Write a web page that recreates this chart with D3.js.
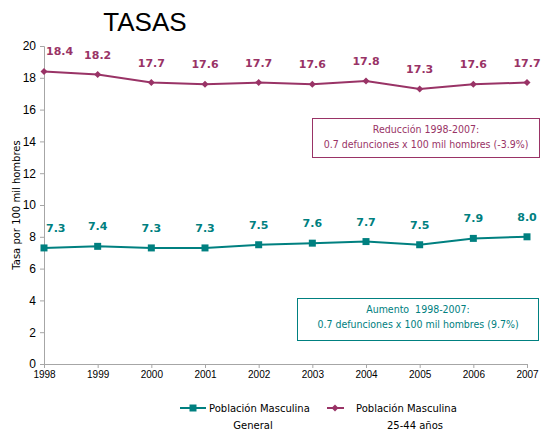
<!DOCTYPE html>
<html>
<head>
<meta charset="utf-8">
<script src="https://cdn.jsdelivr.net/npm/d3@7"></script>
<style>
body { margin: 0; background: #fff; }
</style>
</head>
<body>
<div id="app"></div>
<script>
const years = [1998, 1999, 2000, 2001, 2002, 2003, 2004, 2005, 2006, 2007];
const general = [7.3, 7.4, 7.3, 7.3, 7.5, 7.6, 7.7, 7.5, 7.9, 8.0];
const edad2544 = [18.4, 18.2, 17.7, 17.6, 17.7, 17.6, 17.8, 17.3, 17.6, 17.7];
const yTicks = [0, 2, 4, 6, 8, 10, 12, 14, 16, 18, 20];

const w = 541, h = 437;
const teal = "#008080", plum = "#993366";

const svg = d3.select("#app").append("svg")
    .attr("width", w)
    .attr("height", h)
    .style("font-family", "'DejaVu Sans', sans-serif");

const xScale = d3.scalePoint().domain(years).range([44, 527]);
const yScale = d3.scaleLinear().domain([0, 20]).range([364, 46]);

svg.append("text")
    .attr("x", 145).attr("y", 31)
    .attr("text-anchor", "middle")
    .style("font-family", "'Liberation Sans', Arial, sans-serif")
    .style("font-size", "26px")
    .text("TASAS");

// axes
const xAxis = d3.axisBottom(xScale).tickSize(4).tickPadding(3);
const yAxis = d3.axisLeft(yScale).tickValues(yTicks).tickSize(4).tickPadding(4);

const gx = svg.append("g")
    .attr("transform", "translate(0,364)")
    .call(xAxis);
gx.selectAll("text").style("font-size", "10px").style("fill", "#000");

const gy = svg.append("g")
    .attr("transform", "translate(44,0)")
    .call(yAxis);
gy.selectAll("text")
    .style("font-family", "'Liberation Sans', Arial, sans-serif")
    .style("font-size", "12px").style("fill", "#000");

svg.selectAll(".domain, .tick line").attr("stroke", "#a6a6a6");

svg.append("text")
    .attr("transform", "translate(20,205) rotate(-90)")
    .attr("text-anchor", "middle")
    .style("font-size", "10px")
    .text("Tasa por 100 mil hombres");

const line = d3.line().x((d, i) => xScale(years[i])).y(d => yScale(d));

function series(data, color, marker, labelClass) {
    svg.append("path")
        .datum(data)
        .attr("fill", "none")
        .attr("stroke", color)
        .attr("stroke-width", 2)
        .attr("d", line);
    svg.selectAll("." + labelClass + "m")
        .data(data)
        .enter()
        .append("path")
        .attr("class", labelClass + "m")
        .attr("transform", (d, i) => "translate(" + xScale(years[i]) + "," + yScale(d) + ")")
        .attr("d", marker)
        .attr("fill", color);
    svg.selectAll("." + labelClass)
        .data(data)
        .enter()
        .append("text")
        .attr("class", labelClass)
        .attr("x", (d, i) => i === 0 ? xScale(years[i]) + 2 : xScale(years[i]))
        .attr("y", d => yScale(d) - 16)
        .attr("text-anchor", (d, i) => i === 0 ? "start" : "middle")
        .style("font-size", "11px")
        .style("font-weight", "bold")
        .attr("fill", color)
        .text(d => d.toFixed(1));
}

const square = d3.symbol().type(d3.symbolSquare).size(49)();
const diamond = "M0,-3.5L3.5,0L0,3.5L-3.5,0Z";

series(general, teal, square, "lblg");
series(edad2544, plum, diamond, "lble");

// annotation boxes
function note(x, y, bw, bh, color, lines) {
    svg.append("rect")
        .attr("x", x).attr("y", y)
        .attr("width", bw).attr("height", bh)
        .attr("fill", "#fff")
        .attr("stroke", color)
        .attr("stroke-width", 1);
    lines.forEach((t, i) => {
        svg.append("text")
            .attr("x", x + bw / 2)
            .attr("y", y + 14 + i * 15)
            .attr("text-anchor", "middle")
            .style("font-family", "'DejaVu Sans Condensed', 'DejaVu Sans', sans-serif")
            .style("font-size", "10.5px")
            .style("white-space", "pre")
            .attr("fill", color)
            .text(t);
    });
}
note(312.5, 118.5, 227, 39, plum, ["Reducción 1998-2007:", "0.7 defunciones x 100 mil hombres (-3.9%)"]);
note(297.5, 298.5, 241, 42, teal, ["Aumento  1998-2007:", "0.7 defunciones x 100 mil hombres (9.7%)"]);

// legend
const leg = svg.append("g").style("font-size", "10px");
leg.append("line").attr("x1", 180).attr("x2", 206).attr("y1", 408).attr("y2", 408)
    .attr("stroke", teal).attr("stroke-width", 2);
leg.append("path").attr("transform", "translate(193,408)").attr("d", square).attr("fill", teal);
leg.append("text").attr("x", 209).attr("y", 412).text("Población Masculina");
leg.append("text").attr("x", 253).attr("y", 429).attr("text-anchor", "middle").text("General");

leg.append("line").attr("x1", 327).attr("x2", 344).attr("y1", 408).attr("y2", 408)
    .attr("stroke", plum).attr("stroke-width", 2);
leg.append("path").attr("transform", "translate(335,408)").attr("d", diamond).attr("fill", plum);
leg.append("text").attr("x", 356).attr("y", 412).text("Población Masculina");
leg.append("text").attr("x", 415).attr("y", 429).attr("text-anchor", "middle").text("25-44 años");
</script>
</body>
</html>
